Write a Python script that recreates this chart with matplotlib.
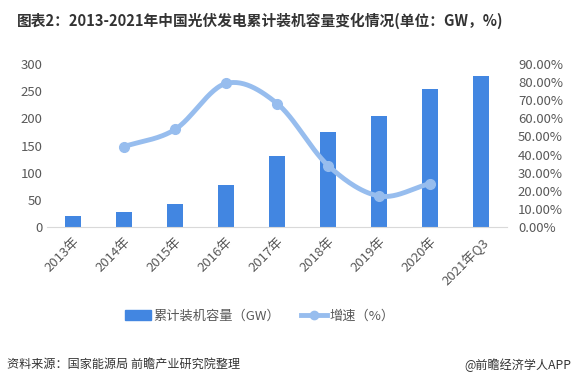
import numpy as np
import matplotlib
matplotlib.use("Agg")
import matplotlib.pyplot as plt
from matplotlib.lines import Line2D
from matplotlib.patches import Patch

plt.rcParams['font.family'] = ['Noto Sans CJK SC', 'DejaVu Sans']

categories = ['2013年', '2014年', '2015年', '2016年', '2017年', '2018年', '2019年', '2020年', '2021年Q3']
capacity = [19.42, 28.05, 43.18, 77.42, 130.25, 174.46, 204.3, 253.43, 278.0]
growth_idx = [1, 2, 3, 4, 5, 6, 7]
growth = [0.444, 0.539, 0.793, 0.682, 0.339, 0.171, 0.240]

bar_color = '#4286E1'
line_color = '#97BDEE'
tick_color = '#595959'


def catmull_rom(xs, ys, n=30):
    """Smooth curve through the points, similar to Excel's smoothed line"""
    xs = np.asarray(xs, float)
    ys = np.asarray(ys, float)
    px = np.concatenate([[2 * xs[0] - xs[1]], xs, [2 * xs[-1] - xs[-2]]])
    py = np.concatenate([[2 * ys[0] - ys[1]], ys, [2 * ys[-1] - ys[-2]]])
    out_x, out_y = [], []
    t = np.linspace(0, 1, n)
    for i in range(1, len(px) - 2):
        for p, out in ((px, out_x), (py, out_y)):
            p0, p1, p2, p3 = p[i - 1], p[i], p[i + 1], p[i + 2]
            seg = 0.5 * ((2 * p1) + (-p0 + p2) * t + (2 * p0 - 5 * p1 + 4 * p2 - p3) * t ** 2
                         + (-p0 + 3 * p1 - 3 * p2 + p3) * t ** 3)
            out.extend(seg)
    return np.array(out_x), np.array(out_y)


fig = plt.figure(figsize=(5.77, 3.86), dpi=100)
ax = fig.add_axes([0.0823, 0.412, 0.796, 0.422])
x = np.arange(len(categories))
ax.bar(x, capacity, width=0.31, color=bar_color, zorder=2)
ax.set_xlim(-0.5, len(categories) - 0.5)
ax.set_ylim(0, 300)
ax.set_yticks(range(0, 301, 50))
ax.set_xticks(x)
ax.set_xticklabels(categories, rotation=45, ha='right', rotation_mode='anchor')
for s in ['top', 'left', 'right']:
    ax.spines[s].set_visible(False)
ax.spines['bottom'].set_color('#D9D9D9')
ax.tick_params(axis='both', length=0, labelsize=9.5, colors=tick_color)
ax.tick_params(axis='x', pad=6)

ax2 = ax.twinx()
sx, sy = catmull_rom(growth_idx, growth)
ax2.plot(sx, sy, color=line_color, lw=3.5, solid_capstyle='round', zorder=3)
ax2.plot(growth_idx, growth, 'o', color=line_color, ms=7, zorder=4)
ax2.set_ylim(0, 0.9)
ax2.set_yticks(np.arange(0, 0.91, 0.1))
ax2.set_yticklabels([f'{v * 100:.2f}%' for v in np.arange(0, 0.91, 0.1)])
for s in ['top', 'left', 'right', 'bottom']:
    ax2.spines[s].set_visible(False)
ax2.tick_params(axis='y', length=0, labelsize=9.5, colors=tick_color, pad=8)

fig.text(0.03, 0.945, '图表2：2013-2021年中国光伏发电累计装机容量变化情况(单位：GW，%)',
         fontsize=10.6, fontweight='bold', color='#333333', va='center')

handles = [Patch(color=bar_color),
           Line2D([0], [0], color=line_color, lw=3.5, marker='o', ms=6)]
fig.legend(handles, ['累计装机容量（GW）', '增速（%）'], loc='center', bbox_to_anchor=(0.45, 0.181),
           ncol=2, frameon=False, fontsize=9.5, handlelength=2.0, handleheight=0.7,
           columnspacing=1.6, handletextpad=0.15, labelcolor=tick_color)

fig.text(0.012, 0.055, '资料来源：国家能源局 前瞻产业研究院整理', fontsize=8.7, color='#333333', va='center')
fig.text(0.99, 0.055, '@前瞻经济学人APP', fontsize=8.7, color='#333333', va='center', ha='right')

fig.savefig('out.png', dpi=100)
